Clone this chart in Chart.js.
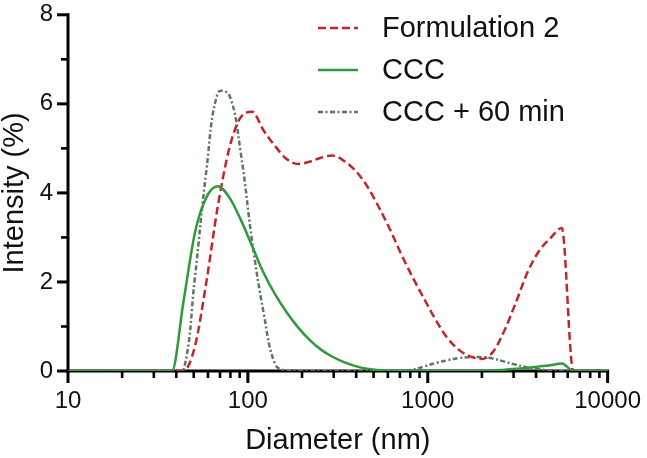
<!DOCTYPE html>
<html><head><meta charset="utf-8">
<script src="https://cdn.jsdelivr.net/npm/chart.js@4/dist/chart.umd.min.js"></script>
<style>html,body{margin:0;padding:0;background:#fff;}#wrap{width:647px;height:458px;}</style>
</head><body><div id="wrap"><canvas id="c" width="647" height="458"></canvas></div>
<script>
// Size bins (nm)
const diameters = [10.1, 11.7, 13.54, 15.69, 18.17, 21.04, 24.36, 28.21, 32.67, 37.84,
  43.82, 50.75, 58.77, 68.06, 78.82, 91.28, 105.7, 122.4, 141.8, 164.2,
  190.1, 220.2, 255.0, 295.3, 342.0, 396.1, 458.7, 531.2, 615.1, 712.4,
  825.0, 955.4, 1106, 1281, 1484, 1718, 1990, 2305, 2669, 3091,
  3580, 4145, 4801, 5560, 6439, 7456, 8635, 10000];
// Intensity (%)
const formulation2 = [0,0,0,0,0,0,0,0,0,0,
  0, 0.55, 2.0, 3.7, 5.0, 5.7, 5.82, 5.4, 5.05, 4.76,
  4.65, 4.7, 4.79, 4.84, 4.72, 4.5, 4.16, 3.7, 3.19, 2.62,
  2.1, 1.62, 1.15, 0.75, 0.48, 0.33, 0.27, 0.43, 0.91, 1.54,
  2.21, 2.69, 2.98, 3.21, 0, 0, 0, 0];
const ccc = [0,0,0,0,0,0,0,0,0,0,
  1.55, 3.1, 3.9, 4.15, 3.9, 3.4, 2.8, 2.2, 1.72, 1.32,
  0.98, 0.7, 0.48, 0.32, 0.2, 0.11, 0.05, 0.02, 0, 0,
  0, 0, 0, 0, 0, 0, 0, 0.01, 0.03, 0.05,
  0.07, 0.1, 0.13, 0.17, 0, 0, 0, 0];
const ccc60 = [0,0,0,0,0,0,0,0,0,0,
  0, 2.1, 4.5, 6.25, 6.2, 4.9, 2.9, 1.3, 0.15, 0,
  0, 0, 0, 0, 0, 0, 0, 0, 0, 0,
  0.03, 0.1, 0.18, 0.24, 0.29, 0.31, 0.31, 0.28, 0.21, 0.14,
  0.08, 0.04, 0.01, 0, 0, 0, 0, 0];
const seriesNames = ['Formulation 2', 'CCC', 'CCC + 60 min'];
const xMajorTicks = [10, 100, 1000, 10000];
const xTickLabels = ['10', '100', '1000', '10000'];
const xMinorTicks = [20,30,40,50,60,70,80,90,200,300,400,500,600,700,800,900,2000,3000,4000,5000,6000,7000,8000,9000];
const yMajorTicks = [0, 2, 4, 6, 8];
const yTickLabels = ['0', '2', '4', '6', '8'];
const yMinorTicks = [1, 3, 5, 7];

const FONT = "'Liberation Sans', Arial, Helvetica, sans-serif";
const toPts = arr => diameters.map((d, i) => ({x: d, y: arr[i]}));

// Axis lines and tick marks, placed through the chart's own scales
const axesPlugin = {
  id: 'axesDraw',
  beforeDatasetsDraw(chart) {
    const ctx = chart.ctx;
    const xs = chart.scales.x, ys = chart.scales.y;
    const x0 = xs.getPixelForValue(10), x1 = xs.getPixelForValue(10000);
    const y0 = ys.getPixelForValue(0), y1 = ys.getPixelForValue(8);
    ctx.save();
    ctx.strokeStyle = '#000';
    ctx.lineCap = 'butt';
    ctx.lineWidth = 3;
    ctx.beginPath(); ctx.moveTo(x0 - 1.5, y0); ctx.lineTo(x1 + 1.5, y0); ctx.stroke();
    ctx.beginPath(); ctx.moveTo(x0, y0 + 1.5); ctx.lineTo(x0, y1 - 1.5); ctx.stroke();
    xMajorTicks.forEach(v => {
      const px = xs.getPixelForValue(v);
      ctx.beginPath(); ctx.moveTo(px, y0); ctx.lineTo(px, y0 + 12); ctx.stroke();
    });
    yMajorTicks.forEach(v => {
      const py = ys.getPixelForValue(v);
      ctx.beginPath(); ctx.moveTo(x0, py); ctx.lineTo(x0 - 11, py); ctx.stroke();
    });
    ctx.lineWidth = 2.6;
    xMinorTicks.forEach(v => {
      const px = xs.getPixelForValue(v);
      ctx.beginPath(); ctx.moveTo(px, y0); ctx.lineTo(px, y0 + 7); ctx.stroke();
    });
    yMinorTicks.forEach(v => {
      const py = ys.getPixelForValue(v);
      ctx.beginPath(); ctx.moveTo(x0, py); ctx.lineTo(x0 - 7, py); ctx.stroke();
    });
    ctx.restore();
  }
};

const legendPlugin = {
  id: 'customLegend',
  afterDraw(chart) {
    const ctx = chart.ctx;
    const rows = [28, 70, 112];
    ctx.save();
    chart.data.datasets.forEach((ds, i) => {
      const y = rows[i];
      ctx.strokeStyle = ds.borderColor;
      ctx.lineWidth = ds.borderWidth;
      ctx.setLineDash(ds.borderDash || []);
      ctx.beginPath(); ctx.moveTo(318, y); ctx.lineTo(358, y); ctx.stroke();
      ctx.setLineDash([]);
      ctx.fillStyle = '#111';
      ctx.font = '29px ' + FONT;
      ctx.textBaseline = 'middle';
      ctx.textAlign = 'left';
      ctx.fillText(ds.label, 382, y + 1);
    });
    ctx.restore();
  }
};

new Chart(document.getElementById('c'), {
  type: 'line',
  data: {
    datasets: [
      {label: seriesNames[0], data: toPts(formulation2), borderColor: '#c2252b', borderWidth: 2.5,
       borderDash: [8, 4], pointRadius: 0, fill: false, cubicInterpolationMode: 'monotone', order: 1},
      {label: seriesNames[1], data: toPts(ccc), borderColor: '#2e9a3a', borderWidth: 2.5,
       pointRadius: 0, fill: false, cubicInterpolationMode: 'monotone', order: 0},
      {label: seriesNames[2], data: toPts(ccc60), borderColor: '#5b7761', borderWidth: 2.5,
       borderDash: [5, 2.5, 2, 2.5], pointRadius: 0, fill: false, tension: 0.4, order: 2}
    ]
  },
  options: {
    responsive: false,
    devicePixelRatio: 1,
    animation: false,
    events: [],
    layout: {padding: {left: 0, top: 11, right: 38, bottom: 0}},
    plugins: {legend: {display: false}, tooltip: {enabled: false}},
    scales: {
      x: {
        type: 'logarithmic', min: 10, max: 10000, position: 'bottom',
        afterBuildTicks(scale) { scale.ticks = xMajorTicks.map(v => ({value: v})); },
        afterFit(scale) { scale.height = 87; },
        border: {display: false},
        grid: {display: true, drawOnChartArea: false, drawTicks: true, tickLength: 12, tickColor: 'rgba(0,0,0,0)'},
        ticks: {
          autoSkip: false, maxRotation: 0, padding: 6, color: '#111',
          font: {family: FONT, size: 24, lineHeight: 1},
          callback: v => { const i = xMajorTicks.indexOf(v); return i >= 0 ? xTickLabels[i] : ''; }
        },
        title: {display: true, text: 'Diameter (nm)', color: '#111',
          font: {family: FONT, size: 29, lineHeight: 1.2}, padding: {top: 0, bottom: 0}}
      },
      y: {
        type: 'linear', min: 0, max: 8,
        afterBuildTicks(scale) { scale.ticks = yMajorTicks.map(v => ({value: v})); },
        afterFit(scale) { scale.width = 68; },
        border: {display: false},
        grid: {display: true, drawOnChartArea: false, drawTicks: true, tickLength: 11, tickColor: 'rgba(0,0,0,0)'},
        ticks: {
          padding: 4, color: '#111',
          font: {family: FONT, size: 24, lineHeight: 0.9},
          callback: v => { const i = yMajorTicks.indexOf(v); return i >= 0 ? yTickLabels[i] : ''; }
        },
        title: {display: true, text: 'Intensity (%)', color: '#111',
          font: {family: FONT, size: 29, lineHeight: 1}, padding: {top: 0, bottom: 0}}
      }
    }
  },
  plugins: [axesPlugin, legendPlugin]
});
</script>
</body></html>
